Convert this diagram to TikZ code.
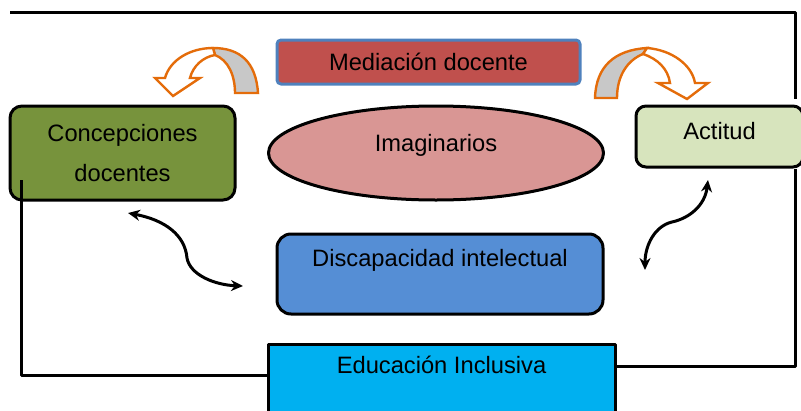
\documentclass[tikz,border=0pt]{standalone}
\usepackage{fontspec}
\setmainfont{Liberation Sans}
\usetikzlibrary{arrows.meta,shapes.geometric}

\definecolor{medfill}{HTML}{C0504D}
\definecolor{medline}{HTML}{4F81BD}
\definecolor{concfill}{HTML}{77933C}
\definecolor{imagfill}{HTML}{D99694}
\definecolor{actfill}{HTML}{D7E4BD}
\definecolor{discfill}{HTML}{558ED5}
\definecolor{edufill}{HTML}{00B0F0}
\definecolor{hookline}{HTML}{E46C0A}
\definecolor{hookgray}{HTML}{C8C8C8}

\begin{document}
\begin{tikzpicture}
  [x=1pt,y=-1pt,line join=round,
   every node/.style={font=\fontsize{23.7}{40}\selectfont,inner sep=0pt,line width=3pt},
   lift/.style={text height=17pt,text depth=#1},
   box/.style={draw,rounded corners=12pt},
   frame/.style={line width=3pt},
   wave/.style={line width=3pt,{Stealth[length=12pt,width=11pt]}-{Stealth[length=12pt,width=11pt]}},
   hookarrow/.style={draw=hookline,line width=2.4pt,line join=miter}]
  \useasboundingbox (0,0) rectangle (801,410);

  \node[box,draw=medline,fill=medfill,rounded corners=4pt,minimum width=303pt,minimum height=44pt,lift=0pt] (med) at (428.5,62) {Mediación docente};
  \node[box,fill=concfill,minimum width=225pt,minimum height=94pt,align=center] (conc) at (122.5,153) {Concepciones\\docentes};
  \node[draw,ellipse,fill=imagfill,minimum width=335pt,minimum height=94pt,lift=20pt] (imag) at (436,153) {Imaginarios};
  \node[box,fill=actfill,rounded corners=10pt,minimum width=167pt,minimum height=61pt,lift=12pt] (act) at (719.5,136.5) {Actitud};
  \node[box,fill=discfill,rounded corners=14pt,minimum width=326pt,minimum height=80pt,lift=32pt] (disc) at (440,274) {Discapacidad intelectual};
  \node[draw,fill=edufill,minimum width=347pt,minimum height=70pt,lift=28pt] (edu) at (441.5,379) {Educación Inclusiva};

  % frame lines
  \coordinate (tl) at (10,12);
  \coordinate (tr) at (795,12);
  \coordinate (br) at (795,366);
  \coordinate (cl) at (21,180);
  \coordinate (bl) at (21,375);
  \draw[frame,shorten >=6pt] (tl) -- (tr) -- (tr |- act.north);
  \draw[frame] (tr |- act.south) -- (br) -- (br -| edu.east);
  \draw[frame] (cl) -- (bl) -- (bl -| edu.west);

  % wavy arrows
  \coordinate (wa1) at (128,213);
  \coordinate (wa2) at (243,286);
  \coordinate (wb1) at (708,180);
  \coordinate (wb2) at (645,270);
  \draw[wave] (wa1) .. controls (165,220) and (185,235) .. (187,258)
    .. controls (190,275) and (215,285) .. (wa2);
  \draw[wave] (wb1) .. controls (705,205) and (690,218) .. (672,222)
    .. controls (655,226) and (645,245) .. (wb2);

  % curved arrows
  \filldraw[hookarrow,fill=hookgray] (258,93) .. controls (256,62) and (240,48) .. (213,48)
    -- (215,55) .. controls (228,60) and (235,75) .. (235,93) -- cycle;
  \filldraw[hookarrow,fill=white] (213,48) .. controls (190,48) and (170,60) .. (165,78)
    -- (155,78) -- (173,96) -- (200,78) -- (190,78)
    .. controls (193,66) and (203,57) .. (215,55) -- cycle;
  \filldraw[hookarrow,fill=hookgray] (595,98) .. controls (596,66) and (615,50) .. (647,48)
    -- (643,54) .. controls (628,60) and (617,75) .. (617,98) -- cycle;
  \filldraw[hookarrow,fill=white] (647,48) .. controls (672,50) and (692,65) .. (695,83)
    -- (708,83) -- (687,99) -- (658,83) -- (670,83)
    .. controls (668,69) and (658,59) .. (643,54) -- cycle;
\end{tikzpicture}
\end{document}
